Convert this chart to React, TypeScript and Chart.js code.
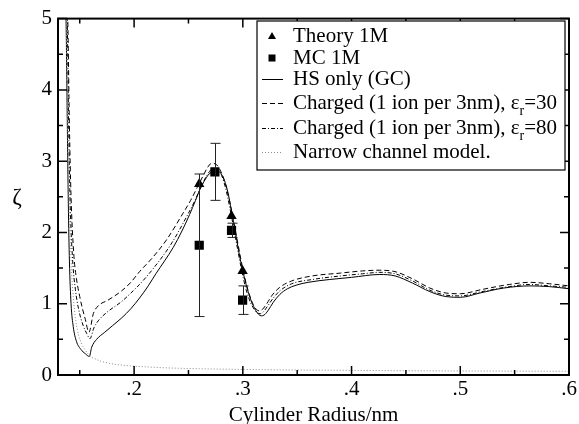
import React, { useEffect, useRef } from 'react';
import { Chart, registerables } from 'chart.js';

Chart.register(...registerables);

// ---------- data ----------
const xTicks = [0.2, 0.3, 0.4, 0.5, 0.6];
const xTickLabels = ['.2', '.3', '.4', '.5', '.6'];
const xMinorTicks = [0.15, 0.25, 0.35, 0.45, 0.55];
const yTicks = [0, 1, 2, 3, 4, 5];
const yTickLabels = ['0', '1', '2', '3', '4', '5'];
const yMinorTicks = [0.5, 1.5, 2.5, 3.5, 4.5];

const hsX = [0.1368, 0.1374, 0.1385, 0.1395, 0.1405, 0.142, 0.144, 0.147, 0.151, 0.155, 0.1588, 0.161, 0.1655, 0.173, 0.18, 0.1885, 0.197, 0.205, 0.213, 0.22, 0.228, 0.236, 0.244, 0.251, 0.2565, 0.2605, 0.2645, 0.269, 0.2743, 0.2785, 0.282, 0.286, 0.2896, 0.2935, 0.2973, 0.302, 0.3065, 0.311, 0.3145, 0.317, 0.3195, 0.323, 0.328, 0.334, 0.341, 0.349, 0.36, 0.38, 0.40, 0.426, 0.44, 0.456, 0.472, 0.487, 0.50, 0.518, 0.54, 0.564, 0.582, 0.6];
const hsY = [5.4, 5.0, 3.6, 2.4, 1.6, 1.0, 0.68, 0.47, 0.36, 0.3, 0.26, 0.39, 0.5, 0.6, 0.69, 0.8, 0.93, 1.08, 1.25, 1.42, 1.6, 1.79, 2.02, 2.25, 2.45, 2.6, 2.72, 2.82, 2.87, 2.85, 2.77, 2.58, 2.3, 1.97, 1.65, 1.33, 1.09, 0.93, 0.85, 0.83, 0.84, 0.9, 1.02, 1.13, 1.21, 1.26, 1.3, 1.34, 1.37, 1.41, 1.39, 1.29, 1.17, 1.1, 1.09, 1.15, 1.22, 1.25, 1.24, 1.21];

const c30X = [0.1382, 0.139, 0.1405, 0.142, 0.1445, 0.147, 0.150, 0.1525, 0.1548, 0.1585, 0.1625, 0.167, 0.176, 0.1885, 0.197, 0.205, 0.216, 0.23, 0.245, 0.252, 0.258, 0.263, 0.2675, 0.2713, 0.275, 0.279, 0.284, 0.2875, 0.291, 0.2945, 0.298, 0.302, 0.306, 0.3095, 0.3125, 0.315, 0.318, 0.322, 0.327, 0.334, 0.345, 0.364, 0.39, 0.41, 0.426, 0.44, 0.456, 0.472, 0.487, 0.50, 0.52, 0.545, 0.564, 0.582, 0.6];
const c30Y = [5.4, 5.0, 3.5, 2.5, 1.7, 1.35, 1.1, 0.93, 0.8, 0.6, 0.86, 0.97, 1.05, 1.18, 1.3, 1.45, 1.63, 1.9, 2.27, 2.45, 2.63, 2.78, 2.91, 2.97, 2.96, 2.88, 2.68, 2.46, 2.2, 1.92, 1.64, 1.35, 1.13, 0.99, 0.92, 0.9, 0.92, 1.0, 1.12, 1.23, 1.32, 1.39, 1.43, 1.46, 1.47, 1.45, 1.35, 1.22, 1.15, 1.14, 1.2, 1.27, 1.3, 1.28, 1.25];

const c80X = [0.1378, 0.1385, 0.1398, 0.141, 0.1435, 0.146, 0.149, 0.153, 0.1565, 0.1594, 0.163, 0.167, 0.175, 0.1885, 0.197, 0.205, 0.219, 0.235, 0.25, 0.256, 0.2615, 0.267, 0.2728, 0.277, 0.2805, 0.2845, 0.288, 0.2915, 0.295, 0.2985, 0.303, 0.307, 0.3105, 0.3135, 0.316, 0.3185, 0.3225, 0.328, 0.334, 0.345, 0.364, 0.39, 0.41, 0.426, 0.44, 0.456, 0.472, 0.487, 0.50, 0.52, 0.545, 0.564, 0.582, 0.6];
const c80Y = [5.4, 5.0, 3.5, 2.5, 1.6, 1.2, 0.92, 0.7, 0.58, 0.51, 0.66, 0.76, 0.88, 1.03, 1.15, 1.27, 1.52, 1.86, 2.27, 2.45, 2.64, 2.8, 2.9, 2.88, 2.8, 2.6, 2.35, 2.07, 1.78, 1.5, 1.2, 1.02, 0.92, 0.87, 0.86, 0.88, 0.96, 1.08, 1.18, 1.28, 1.34, 1.39, 1.42, 1.44, 1.42, 1.32, 1.19, 1.12, 1.11, 1.17, 1.24, 1.27, 1.25, 1.23];

const narrowX = [0.1372, 0.138, 0.139, 0.1405, 0.142, 0.144, 0.1465, 0.149, 0.152, 0.155, 0.158, 0.161, 0.165, 0.17, 0.177, 0.185, 0.195, 0.21, 0.23, 0.26, 0.3, 0.35, 0.4, 0.45, 0.5, 0.55, 0.6];
const narrowY = [5.4, 4.6, 3.4, 2.3, 1.6, 1.1, 0.75, 0.56, 0.43, 0.35, 0.29, 0.25, 0.22, 0.19, 0.165, 0.145, 0.13, 0.115, 0.1, 0.088, 0.078, 0.07, 0.065, 0.06, 0.057, 0.054, 0.052];

const theoryX = [0.2599, 0.2896, 0.2998];
const theoryY = [2.68, 2.23, 1.46];

const mcX = [0.2599, 0.2743, 0.2896, 0.2998];
const mcY = [1.82, 2.85, 2.03, 1.05];
const mcErr = [1.0, 0.4, 0.1, 0.2];

const seriesNames = [
  'Theory 1M',
  'MC 1M',
  'HS only (GC)',
  'Charged (1 ion per 3nm), ε',
  'Charged (1 ion per 3nm), ε',
  'Narrow channel model.',
];
const seriesSuffix = ['', '', '', '=30', '=80', ''];

const FONT = '"Liberation Serif", "DejaVu Serif", serif';
const DASH30 = [5, 3];
const DASH80 = [4, 2, 1, 2];
const DOT = [1, 2];
const GRAY = '#8a8a8a';

const pts = (xs: number[], ys: number[]) => xs.map((x, i) => ({ x, y: ys[i] }));

const decorPlugin = {
  id: 'decor',
  afterDatasetsDraw(chart: any) {
    const { ctx, scales } = chart;
    const xs = scales.x;
    const ys = scales.y;
    // error bars
    ctx.save();
    ctx.strokeStyle = '#222';
    ctx.lineWidth = 1;
    mcX.forEach((xv, i) => {
      const px = Math.round(xs.getPixelForValue(xv)) + 0.5;
      const top = ys.getPixelForValue(mcY[i] + mcErr[i]);
      const bot = ys.getPixelForValue(mcY[i] - mcErr[i]);
      ctx.beginPath();
      ctx.moveTo(px, top);
      ctx.lineTo(px, bot);
      ctx.moveTo(px - 5, top);
      ctx.lineTo(px + 5, top);
      ctx.moveTo(px - 5, bot);
      ctx.lineTo(px + 5, bot);
      ctx.stroke();
    });
    ctx.restore();
  },
  afterDraw(chart: any) {
    const { ctx, chartArea, scales } = chart;
    const { left, right, top, bottom } = chartArea;
    const xs = scales.x;
    const ys = scales.y;
    ctx.save();
    // ticks
    ctx.strokeStyle = '#000';
    ctx.lineWidth = 1.5;
    const tickX = (v: number, len: number) => {
      const p = xs.getPixelForValue(v);
      ctx.beginPath();
      ctx.moveTo(p, bottom);
      ctx.lineTo(p, bottom - len);
      ctx.moveTo(p, top);
      ctx.lineTo(p, top + len);
      ctx.stroke();
    };
    const tickY = (v: number, len: number) => {
      const p = ys.getPixelForValue(v);
      ctx.beginPath();
      ctx.moveTo(left, p);
      ctx.lineTo(left + len, p);
      ctx.moveTo(right, p);
      ctx.lineTo(right - len, p);
      ctx.stroke();
    };
    xTicks.forEach((v) => tickX(v, 9));
    xMinorTicks.forEach((v) => tickX(v, 5));
    yTicks.forEach((v) => tickY(v, 9));
    yMinorTicks.forEach((v) => tickY(v, 5));
    // frame
    ctx.lineWidth = 2;
    ctx.strokeRect(left, top, right - left, bottom - top);

    // axis titles
    ctx.fillStyle = '#000';
    ctx.font = `21px ${FONT}`;
    ctx.textAlign = 'center';
    ctx.textBaseline = 'middle';
    ctx.fillText('Cylinder Radius/nm', (left + right) / 2, 415);
    ctx.font = `23px ${FONT}`;
    ctx.fillText('ζ', 17, 198);

    // legend
    const L = 257, T = 21, R = 565, B = 170;
    ctx.fillStyle = '#fff';
    ctx.fillRect(L, T, R - L, B - T);
    ctx.lineWidth = 1.2;
    ctx.strokeStyle = '#000';
    ctx.strokeRect(L, T, R - L, B - T);
    const rowY = [36, 58, 79, 103, 128, 152];
    const sx0 = 262, sx1 = 283, tx = 293;
    rowY.forEach((y, i) => {
      ctx.save();
      if (i === 0) {
        ctx.fillStyle = '#000';
        ctx.beginPath();
        ctx.moveTo(272, y - 4);
        ctx.lineTo(276, y + 3);
        ctx.lineTo(268, y + 3);
        ctx.closePath();
        ctx.fill();
      } else if (i === 1) {
        ctx.fillStyle = '#000';
        ctx.fillRect(268.5, y - 3.5, 7, 7);
      } else {
        ctx.beginPath();
        ctx.lineWidth = 1;
        if (i === 2) { ctx.setLineDash([]); ctx.strokeStyle = '#000'; }
        if (i === 3) { ctx.setLineDash(DASH30); ctx.strokeStyle = '#000'; }
        if (i === 4) { ctx.setLineDash(DASH80); ctx.strokeStyle = '#000'; }
        if (i === 5) { ctx.setLineDash(DOT); ctx.strokeStyle = GRAY; }
        ctx.moveTo(sx0, y + 0.5);
        ctx.lineTo(sx1, y + 0.5);
        ctx.stroke();
      }
      ctx.restore();
      ctx.fillStyle = '#000';
      ctx.font = `21px ${FONT}`;
      ctx.textAlign = 'left';
      ctx.textBaseline = 'middle';
      ctx.fillText(seriesNames[i], tx, y);
      if (seriesSuffix[i]) {
        let w = ctx.measureText(seriesNames[i]).width;
        ctx.font = `14px ${FONT}`;
        ctx.fillText('r', tx + w, y + 8);
        const wr = ctx.measureText('r').width;
        ctx.font = `21px ${FONT}`;
        ctx.fillText(seriesSuffix[i], tx + w + wr, y);
      }
    });
    ctx.restore();
  },
};

export default function App() {
  const ref = useRef<HTMLCanvasElement | null>(null);
  useEffect(() => {
    document.body.style.margin = '0';
    const canvas = ref.current;
    if (!canvas) return;
    const lineBase = {
      type: 'line' as const,
      pointRadius: 0,
      borderWidth: 1,
      fill: false,
      cubicInterpolationMode: 'monotone' as const,
    };
    const chart = new Chart(canvas, {
      type: 'line',
      data: {
        datasets: [
          { ...lineBase, label: seriesNames[5], data: pts(narrowX, narrowY), borderColor: GRAY, borderDash: DOT },
          { ...lineBase, label: seriesNames[2], data: pts(hsX, hsY), borderColor: '#000' },
          { ...lineBase, label: seriesNames[3] + 'r=30', data: pts(c30X, c30Y), borderColor: '#000', borderDash: DASH30 },
          { ...lineBase, label: seriesNames[4] + 'r=80', data: pts(c80X, c80Y), borderColor: '#000', borderDash: DASH80 },
          {
            type: 'scatter' as any,
            label: seriesNames[0],
            data: pts(theoryX, theoryY),
            pointStyle: 'triangle',
            pointRadius: 6,
            backgroundColor: '#000',
            borderColor: '#000',
            borderWidth: 0,
            showLine: false,
          },
          {
            type: 'scatter' as any,
            label: seriesNames[1],
            data: pts(mcX, mcY),
            pointStyle: 'rect',
            pointRadius: 6.5,
            backgroundColor: '#000',
            borderColor: '#000',
            borderWidth: 0,
            showLine: false,
          },
        ] as any,
      },
      options: {
        animation: false,
        responsive: false,
        maintainAspectRatio: false,
        layout: { padding: { top: 16, right: 10, left: 0, bottom: 0 } },
        plugins: { legend: { display: false }, tooltip: { enabled: false } },
        scales: {
          x: {
            type: 'linear',
            min: 0.13,
            max: 0.6,
            grid: { display: false, drawTicks: false },
            border: { display: false },
            afterBuildTicks: (s: any) => { s.ticks = xTicks.map((v) => ({ value: v })); },
            afterFit: (s: any) => { s.height = 49; },
            ticks: {
              callback: (_v: any, i: number) => xTickLabels[i],
              font: { family: FONT, size: 21 },
              color: '#000',
              padding: 2,
              maxRotation: 0,
              autoSkip: false,
            },
          },
          y: {
            type: 'linear',
            min: 0,
            max: 5,
            grid: { display: false, drawTicks: false },
            border: { display: false },
            afterBuildTicks: (s: any) => { s.ticks = yTicks.map((v) => ({ value: v })); },
            afterFit: (s: any) => { s.width = 58; },
            ticks: {
              callback: (_v: any, i: number) => yTickLabels[i],
              font: { family: FONT, size: 21 },
              color: '#000',
              padding: 6,
              autoSkip: false,
            },
          },
        },
      } as any,
      plugins: [decorPlugin],
    });
    return () => chart.destroy();
  }, []);
  return (
    <div style={{ width: 579, height: 424, background: '#fff' }}>
      <canvas ref={ref} width={579} height={424} style={{ display: 'block' }} />
    </div>
  );
}
